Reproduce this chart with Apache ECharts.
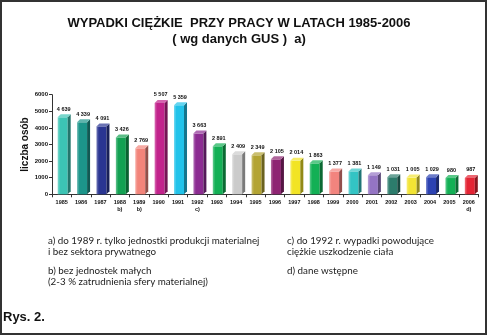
<!DOCTYPE html>
<html>
<head>
<meta charset="utf-8">
<script src="https://cdn.jsdelivr.net/npm/echarts@6/dist/echarts.min.js"></script>
<style>html,body{margin:0;padding:0;background:#fff}#c{width:490px;height:336px}</style>
</head>
<body>
<div id="c"></div>
<script>
const years = ['1985','1986','1987','1988','1989','1990','1991','1992','1993','1994','1995','1996','1997','1998','1999','2000','2001','2002','2003','2004','2005','2006'];
const footnoteMarks = ['','','','b)','b)','','','c)','','','','','','','','','','','','','','d)'];
const values = [4639,4339,4091,3426,2769,5507,5359,3663,2891,2409,2349,2105,2014,1863,1377,1381,1149,1031,1005,1029,980,987];
const barColors = ['#3cc4b4','#1c958a','#2a3592','#13a152','#f2847a','#c2238c','#22c3ea','#8c2c92','#13b055','#cbcbcb','#b3a433','#8e2472','#f2e424','#13b055','#f2847e','#33c4c4','#9474c4','#2c7c6c','#f2e434','#2c42b2','#13b055','#e42434'];
const yTicks = [0,1000,2000,3000,4000,5000,6000];

function shade(hex, f){
  const n = parseInt(hex.slice(1),16);
  let r=(n>>16)&255,g=(n>>8)&255,b=n&255;
  if(f<0){r=r*(1+f);g=g*(1+f);b=b*(1+f);}
  else {r=r+(255-r)*f;g=g+(255-g)*f;b=b+(255-b)*f;}
  return 'rgb('+Math.round(r)+','+Math.round(g)+','+Math.round(b)+')';
}
function fmt(v){
  const s = String(v);
  return s.length>3 ? s.slice(0,s.length-3)+' '+s.slice(-3) : s;
}

const chart = echarts.init(document.getElementById('c'), null, {renderer:'canvas'});
const FONT = '"Liberation Sans", Arial, sans-serif';
const NOTE_FONT = '9.8px Lato, sans-serif';

function renderItem(params, api){
  const idx = api.value(0), val = api.value(1);
  const top = api.coord([idx, val]);
  const base = api.coord([idx, 0]);
  const cx = top[0];
  const w = 10, d = 3, x0 = cx - 4;
  const c = barColors[params.dataIndex];
  return {type:'group', children:[
    {type:'rect', shape:{x:x0, y:top[1], width:w, height:base[1]-top[1]},
     style:{fill:{type:'linear',x:0,y:0,x2:1,y2:0,colorStops:[{offset:0,color:shade(c,0.35)},{offset:0.25,color:c},{offset:1,color:c}]}}},
    {type:'polygon', shape:{points:[[x0+w,top[1]],[x0+w+d,top[1]-d],[x0+w+d,base[1]-d],[x0+w,base[1]]]},
     style:{fill:shade(c,-0.4)}},
    {type:'polygon', shape:{points:[[x0,top[1]],[x0+d,top[1]-d],[x0+w+d,top[1]-d],[x0+w,top[1]]]},
     style:{fill:shade(c,0.3)}},
    {type:'text', style:{text:fmt(val), x:cx+2, y:top[1]-d-2, align:'center', verticalAlign:'bottom',
      font:'bold 5.5px '+FONT, fill:'#111'}}
  ]};
}

const option = {
  animation:false,
  backgroundColor:'#fff',
  title:[
    {text:'WYPADKI CIĘŻKIE  PRZY PRACY W LATACH 1985-2006', left:234, top:12, textAlign:'center',
     textStyle:{fontFamily:FONT, fontWeight:'bold', fontSize:13, color:'#111'}},
    {text:'( wg danych GUS )  a)', left:234, top:28, textAlign:'center',
     textStyle:{fontFamily:FONT, fontWeight:'bold', fontSize:13, color:'#111'}}
  ],
  grid:{left:52, right:11.5, top:94.7, bottom:141.7, containLabel:false},
  xAxis:{
    type:'category', data:years,
    axisLine:{lineStyle:{color:'#333', width:1}},
    axisTick:{show:true, length:3, lineStyle:{color:'#333'}},
    axisLabel:{interval:0, margin:5, fontFamily:FONT, fontWeight:'bold', fontSize:5.5, color:'#111', lineHeight:7,
      formatter:function(v,i){return footnoteMarks[i] ? v+'\n'+footnoteMarks[i] : v;}}
  },
  yAxis:{
    type:'value', min:yTicks[0], max:yTicks[yTicks.length-1], interval:1000,
    name:'liczba osób', nameLocation:'middle', nameGap:22, nameMoveOverlap:false,
    nameTextStyle:{fontFamily:FONT, fontWeight:'bold', fontSize:10, color:'#111'},
    axisLine:{show:true, lineStyle:{color:'#333'}},
    axisTick:{show:true, length:3, lineStyle:{color:'#333'}},
    splitLine:{show:false},
    axisLabel:{margin:4, fontFamily:FONT, fontWeight:'bold', fontSize:6, color:'#111',
      formatter:function(v){return String(v);}}
  },
  series:[{
    type:'custom', renderItem:renderItem,
    data: values.map(function(v,i){return [i,v];}),
    encode:{x:0,y:1}, clip:false
  }],
  graphic:[
    {type:'rect', shape:{x:1, y:1, width:485, height:333}, style:{fill:'none', stroke:'#333', lineWidth:2}, silent:true},
    {type:'text', left:48, top:236, style:{text:'a) do 1989 r. tylko jednostki produkcji materialnej\ni bez sektora prywatnego', font:NOTE_FONT, fill:'#222', lineHeight:10.5}},
    {type:'text', left:48, top:266, style:{text:'b) bez jednostek małych\n(2-3 % zatrudnienia sfery materialnej)', font:NOTE_FONT, fill:'#222', lineHeight:10.5}},
    {type:'text', left:287, top:236, style:{text:'c) do 1992 r. wypadki powodujące\nciężkie uszkodzenie ciała', font:NOTE_FONT, fill:'#222', lineHeight:10.5}},
    {type:'text', left:287, top:266, style:{text:'d) dane wstępne', font:NOTE_FONT, fill:'#222', lineHeight:10.5}},
    {type:'text', left:3, top:311, style:{text:'Rys. 2.', font:'bold 13px '+FONT, fill:'#111'}}
  ]
};
chart.setOption(option);
</script>
</body>
</html>
